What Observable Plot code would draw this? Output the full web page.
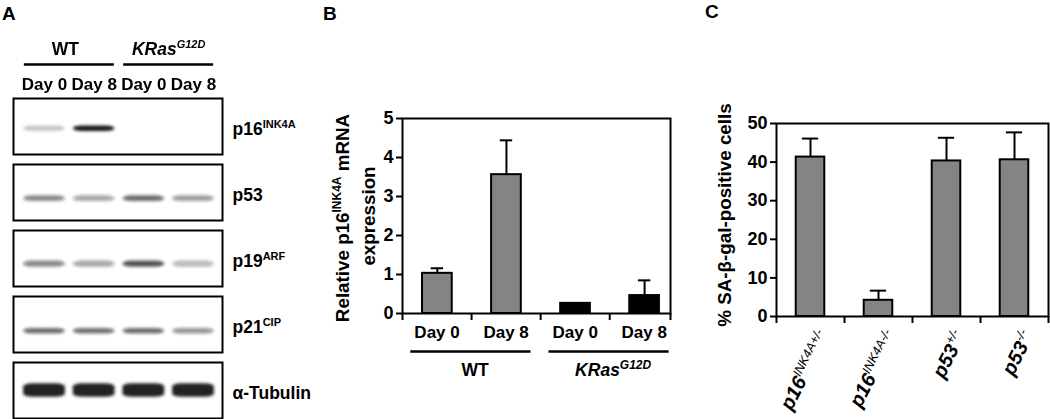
<!DOCTYPE html>
<html>
<head>
<meta charset="utf-8">
<script src="https://cdn.jsdelivr.net/npm/d3@7"></script>
<script src="https://cdn.jsdelivr.net/npm/@observablehq/plot@0.6"></script>
<style>
html, body { margin: 0; padding: 0; background: #fff; }
#fig { position: relative; width: 1050px; height: 419px; overflow: hidden; font-family: "Liberation Sans", Arial, Helvetica, sans-serif; }
.panel { position: absolute; top: 0; }
.letter { position: absolute; font-weight: bold; font-size: 19px; line-height: 1; color: #000; }
svg g[aria-label^="y-axis"] path, svg g[aria-label^="y-axis"] line,
svg g[aria-label^="x-axis"] path, svg g[aria-label^="x-axis"] line { stroke-width: 2px; }
svg g[aria-label^="y-axis"], svg g[aria-label^="y-axis"] text { font-size: 18px !important; font-weight: bold; }
</style>
</head>
<body>
<div id="fig">
  <div class="letter" style="left:2px;top:4px">A</div>
  <div class="letter" style="left:323px;top:4px">B</div>
  <div class="letter" style="left:705px;top:2px">C</div>
  <div class="panel" id="pA" style="left:0px"></div>
  <div class="panel" id="pB" style="left:320px"></div>
  <div class="panel" id="pC" style="left:680px"></div>
</div>
<script>
// ---------------- data ----------------
// Panel A (western blot)
const lanes = ["Day 0", "Day 8", "Day 0", "Day 8"];
const laneGroupIndex = [0, 0, 1, 1];
const groupNames = ["WT", "KRas^{G12D}"];
const groupItalic = [false, true];
const proteins = ["p16^{INK4A}", "p53", "p19^{ARF}", "p21^{CIP}", "α-Tubulin"];
const bandIntensity = [
  [0.22, 1.00, 0.00, 0.00],
  [0.50, 0.38, 0.62, 0.42],
  [0.50, 0.38, 0.72, 0.30],
  [0.62, 0.60, 0.62, 0.45],
  [0.95, 0.95, 0.95, 0.95]
];
const bandPos = [0.54, 0.61, 0.60, 0.62, 0.50];
const bandThickness = [0.10, 0.10, 0.11, 0.10, 0.24];

// Panel B
const bCategories = ["Day 0", "Day 8", "Day 0", "Day 8"];
const bGroupIndex = [0, 0, 1, 1];
const bValues = [1.03, 3.56, 0.26, 0.46];
const bErrors = [0.13, 0.88, 0.0, 0.39];
const bTicks = [0, 1, 2, 3, 4, 5];
const bYLabel1 = "Relative p16^{INK4A} mRNA";
const bYLabel2 = "expression";

// Panel C
const cCategories = ["p16^{INK4A+/-}", "p16^{INK4A-/-}", "p53^{+/-}", "p53^{-/-}"];
const cValues = [41.3, 4.2, 40.3, 40.6];
const cErrors = [4.8, 2.5, 6.0, 7.1];
const cTicks = [0, 10, 20, 30, 40, 50];
const cYLabel = "% SA-β-gal-positive cells";

// ---------------- helpers ----------------
const FONT = '"Liberation Sans", Arial, Helvetica, sans-serif';
const NS = "http://www.w3.org/2000/svg";
function applySup(svg, {size = 11, shift = 7, weight = null} = {}) {
  svg.querySelectorAll("text").forEach(el => {
    const targets = el.querySelector("tspan") ? Array.from(el.querySelectorAll("tspan")) : [el];
    targets.forEach(t => {
      const s = t.textContent;
      if (!s.includes("^{")) return;
      const parts = s.split(/(\^\{[^}]*\})/).filter(Boolean);
      t.textContent = "";
      let raised = false;
      for (const p of parts) {
        const ts = document.createElementNS(NS, "tspan");
        if (p.startsWith("^{")) {
          ts.textContent = p.slice(2, -1);
          ts.setAttribute("font-size", size);
          if (weight) ts.setAttribute("font-weight", weight);
          ts.setAttribute("dy", -shift);
          raised = true;
        } else {
          ts.textContent = p;
          if (raised) { ts.setAttribute("dy", shift); raised = false; }
        }
        t.appendChild(ts);
      }
    });
  });
}
const baseStyle = {fontFamily: FONT, fontSize: "18px", fontWeight: "bold", color: "black", background: "transparent", overflow: "visible"};

// ---------------- Panel A ----------------
const blot = proteins.flatMap((p, i) => lanes.map((l, j) => ({
  protein: p, lane: j, intensity: bandIntensity[i][j], pos: bandPos[i], th: bandThickness[i]
}))).filter(d => d.intensity > 0);
const groupsA = groupNames.map((name, g) => {
  const idx = laneGroupIndex.map((v, i) => v === g ? i : -1).filter(i => i >= 0);
  return {name, italic: groupItalic[g], center: (idx[0] + idx[idx.length - 1]) / 2};
});
const firstP = proteins[0];

const plotA = Plot.plot({
  width: 320, height: 419,
  marginLeft: 13, marginRight: 98, marginTop: 97, marginBottom: 1,
  style: baseStyle,
  x: {domain: [-0.624, 3.584], axis: null},
  y: {domain: [0, 1], reverse: true, axis: null},
  fy: {domain: proteins, axis: null, paddingInner: 0.155, paddingOuter: 0},
  opacity: {type: "identity"},
  marks: [
    Plot.rect(blot, {
      fy: "protein",
      x1: d => d.lane - 0.42, x2: d => d.lane + 0.42,
      y1: d => d.pos - d.th / 2, y2: d => d.pos + d.th / 2,
      fill: "#161616", fillOpacity: "intensity", rx: 9, ry: 3
    }),
    Plot.frame({stroke: "black", strokeWidth: 2}),
    Plot.text(proteins, {fy: d => d, text: d => d, frameAnchor: "right", textAnchor: "start", lineAnchor: "middle", dx: 10, dy: 3, fontSize: 17.5, fontWeight: "bold"}),
    Plot.text(lanes, {fy: () => firstP, x: (d, i) => i, text: d => d, frameAnchor: "top", textAnchor: "middle", lineAnchor: "middle", dy: -14, fontSize: 17, fontWeight: "bold"}),
    Plot.ruleY(groupsA, {fy: () => firstP, y: () => 0, x1: d => d.center - 0.906, x2: d => d.center + 0.906, dy: -34, strokeWidth: 2.5, stroke: "black"}),
    Plot.text(groupsA.filter(d => !d.italic), {fy: () => firstP, x: d => d.center - 0.08, text: "name", frameAnchor: "top", textAnchor: "middle", lineAnchor: "middle", dy: -49, fontSize: 17.5, fontWeight: "bold"}),
    Plot.text(groupsA.filter(d => d.italic), {fy: () => firstP, x: "center", text: "name", frameAnchor: "top", textAnchor: "middle", lineAnchor: "middle", dy: -49, fontSize: 17.5, fontWeight: "bold", fontStyle: "italic"})
  ]
});
{
  const defs = d3.select(plotA).insert("defs", ":first-child");
  defs.append("filter").attr("id", "blotblur")
    .attr("x", "-20%").attr("y", "-100%").attr("width", "140%").attr("height", "300%")
    .append("feGaussianBlur").attr("stdDeviation", 1.6);
  d3.select(plotA).selectAll('g[aria-label="rect"]').attr("filter", "url(#blotblur)");
}
applySup(plotA, {size: 11, shift: 7});
document.getElementById("pA").appendChild(plotA);

// ---------------- Panel B ----------------
const bData = bCategories.map((c, i) => ({i, cat: c, v: bValues[i], e: bErrors[i], color: bGroupIndex[i] === 0 ? "#848484" : "#000000"}));
const groupsB = groupNames.map((name, g) => {
  const idx = bGroupIndex.map((v, i) => v === g ? i : -1).filter(i => i >= 0);
  return {name, italic: groupItalic[g], start: idx[0], end: idx[idx.length - 1] + 1};
});
const plotB = Plot.plot({
  width: 352, height: 419,
  marginLeft: 82, marginRight: 2, marginTop: 118, marginBottom: 106,
  style: baseStyle,
  x: {domain: [0, 3.88], ticks: [0, 1, 2, 3, 3.88], tickFormat: () => "", tickSize: 7, label: null},
  y: {domain: [0, 5], ticks: bTicks, tickFormat: d => String(d), tickSize: 6, tickPadding: 3, label: null},
  color: {type: "identity"},
  marks: [
    Plot.rect(bData, {x1: d => d.i + 0.29, x2: d => d.i + 0.72, y1: 0, y2: "v", fill: "color", stroke: "black", strokeWidth: 2}),
    Plot.ruleX(bData.filter(d => d.e > 0), {x: d => d.i + 0.505, y1: "v", y2: d => d.v + d.e, strokeWidth: 2, stroke: "black"}),
    Plot.ruleY(bData.filter(d => d.e > 0), {y: d => d.v + d.e, x1: d => d.i + 0.505 - 0.09, x2: d => d.i + 0.505 + 0.09, strokeWidth: 2, stroke: "black"}),
    Plot.frame({stroke: "black", strokeWidth: 2}),
    Plot.text(bData, {x: d => d.i + 0.5, text: "cat", frameAnchor: "bottom", textAnchor: "middle", lineAnchor: "middle", dy: 19, fontSize: 17, fontWeight: "bold"}),
    Plot.ruleY(groupsB, {y: () => 0, x1: d => d.start + 0.12, x2: d => d.end - 0.14, dy: 38, strokeWidth: 2.5, stroke: "black"}),
    Plot.text(groupsB.filter(d => !d.italic), {x: d => (d.start + d.end) / 2 + 0.05, text: "name", frameAnchor: "bottom", textAnchor: "middle", lineAnchor: "middle", dy: 57, fontSize: 17.5, fontWeight: "bold"}),
    Plot.text(groupsB.filter(d => d.italic), {x: d => (d.start + d.end) / 2 + 0.05, text: "name", frameAnchor: "bottom", textAnchor: "middle", lineAnchor: "middle", dy: 57, fontSize: 17.5, fontWeight: "bold", fontStyle: "italic"}),
    Plot.text([bYLabel1], {text: d => d, frameAnchor: "left", textAnchor: "middle", lineAnchor: "middle", rotate: -90, dx: -60, dy: 2, fontSize: 18.8, fontWeight: "bold"}),
    Plot.text([bYLabel2], {text: d => d, frameAnchor: "left", textAnchor: "middle", lineAnchor: "middle", rotate: -90, dx: -34, dy: 0, fontSize: 18.8, fontWeight: "bold"})
  ]
});
applySup(plotB, {size: 12, shift: 7.5});
document.getElementById("pB").appendChild(plotB);

// ---------------- Panel C ----------------
const cData = cCategories.map((c, i) => ({i, cat: c, v: cValues[i], e: cErrors[i]}));
const plotC = Plot.plot({
  width: 370, height: 419,
  marginLeft: 96, marginRight: 2, marginTop: 123, marginBottom: 103,
  style: baseStyle,
  x: {domain: [0, 4], ticks: [0, 1, 2, 3, 4], tickFormat: () => "", tickSize: 7, label: null},
  y: {domain: [0, 50], ticks: cTicks, tickFormat: d => String(d), tickSize: 6, tickPadding: 3, label: null},
  marks: [
    Plot.rect(cData, {x1: d => d.i + 0.29, x2: d => d.i + 0.71, y1: 0, y2: "v", fill: "#848484", stroke: "black", strokeWidth: 2}),
    Plot.ruleX(cData.filter(d => d.e > 0), {x: d => d.i + 0.5, y1: "v", y2: d => d.v + d.e, strokeWidth: 2, stroke: "black"}),
    Plot.ruleY(cData.filter(d => d.e > 0), {y: d => d.v + d.e, x1: d => d.i + 0.5 - 0.12, x2: d => d.i + 0.5 + 0.12, strokeWidth: 2, stroke: "black"}),
    Plot.frame({stroke: "black", strokeWidth: 2}),
    Plot.text(cData, {x: d => d.i + 0.5, text: "cat", frameAnchor: "bottom", rotate: -63, textAnchor: "end", lineAnchor: "middle", dx: 14, dy: 16, fontSize: 20, fontWeight: "bold", fontStyle: "italic"}),
    Plot.text([cYLabel], {text: d => d, frameAnchor: "left", textAnchor: "middle", lineAnchor: "middle", rotate: -90, dx: -52, dy: -5, fontSize: 18.8, fontWeight: "bold"})
  ]
});
applySup(plotC, {size: 12.5, shift: 8, weight: "normal"});
document.getElementById("pC").appendChild(plotC);
</script>
</body>
</html>
